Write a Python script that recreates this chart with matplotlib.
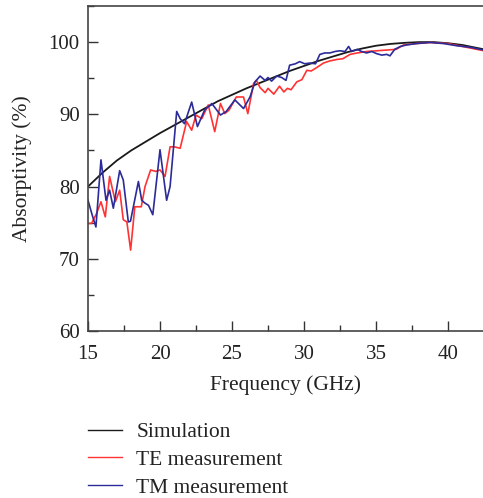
import matplotlib
matplotlib.use("Agg")
import matplotlib.pyplot as plt
from matplotlib.ticker import MultipleLocator
from matplotlib.lines import Line2D

plt.rcParams['font.family'] = ['Liberation Serif', 'DejaVu Serif']

sim_freq = [15, 16, 17, 18, 19, 20, 21, 22, 23, 24, 25, 26, 27, 28, 29, 30, 31, 32,
            33, 34, 35, 36, 37, 38, 39, 40, 41, 42, 42.5]
sim_abs = [80.0, 81.9, 83.6, 85.0, 86.2, 87.4, 88.5, 89.6, 90.7, 91.8, 92.7, 93.6, 94.4,
           95.2, 96.0, 96.7, 97.4, 98.0, 98.6, 99.1, 99.5, 99.75, 99.9, 100.0, 100.0,
           99.85, 99.6, 99.2, 99.0]

te_freq = [15.0, 15.25, 15.6, 15.9, 16.2, 16.5, 16.9, 17.2, 17.45, 17.7, 17.96, 18.25,
           18.5, 18.7, 18.96, 19.35, 19.7, 20.0, 20.35, 20.7, 21.0, 21.4, 21.85, 22.2,
           22.5, 22.9, 23.35, 23.8, 24.2, 24.5, 24.8, 25.3, 25.8, 26.1, 26.5, 26.7, 26.95,
           27.3, 27.5, 27.9, 28.3, 28.6, 28.85, 29.1, 29.5, 29.85, 30.2, 30.5, 30.9, 31.35,
           31.8, 32.3, 32.7, 33.2, 33.7, 34.35, 35.05, 35.75, 36.4, 36.9, 37.8, 38.8, 40.0,
           41.0, 42.0, 42.5]
te_abs = [74.9, 74.9, 76.3, 77.9, 75.8, 81.4, 77.9, 79.5, 75.4, 75.1, 71.2, 77.2,
          77.2, 77.2, 80.0, 82.3, 82.1, 82.3, 81.4, 85.5, 85.5, 85.3, 89.0, 87.8,
          89.9, 89.4, 91.3, 87.6, 91.5, 90.1, 90.6, 92.4, 92.4, 90.1, 94.3, 94.7, 93.7,
          93.0, 93.6, 92.8, 93.9, 93.1, 93.6, 93.4, 94.5, 94.8, 96.1, 96.0, 96.5, 97.1,
          97.4, 97.6, 97.7, 98.3, 98.5, 98.7, 98.8, 98.9, 99.0, 99.6, 99.8, 99.95, 99.8,
          99.4, 99.0, 98.8]

tm_freq = [15.0, 15.3, 15.55, 15.9, 16.25, 16.5, 16.76, 17.2, 17.45, 17.8, 17.95, 18.5,
           18.73, 18.96, 19.2, 19.5, 20.0, 20.46, 20.7, 21.16, 21.4, 21.7, 22.2, 22.6,
           23.1, 23.6, 24.2, 24.6, 25.2, 25.8, 26.25, 26.6, 26.95, 27.3, 27.5, 27.75,
           28.1, 28.45, 28.75, 29.0, 29.4, 29.7, 30.05, 30.4, 30.8, 31.1, 31.45, 31.8,
           32.15, 32.5, 32.85, 33.1, 33.3, 33.7, 34.0, 34.35, 34.7, 35.05, 35.4, 35.75,
           35.97, 36.3, 36.7, 37.1, 37.8, 38.75, 39.7, 40.6, 41.5, 42.5]
tm_abs = [78.1, 76.0, 74.4, 83.7, 78.1, 79.5, 77.0, 82.2, 80.9, 75.1, 75.2, 80.7,
          78.1, 77.7, 77.4, 76.1, 85.1, 78.1, 80.0, 90.4, 89.4, 88.7, 91.7, 88.3,
          90.6, 91.5, 89.9, 90.4, 92.0, 90.8, 92.4, 94.5, 95.3, 94.7, 95.1, 94.6,
          95.3, 95.1, 94.7, 96.8, 97.0, 97.3, 97.0, 97.1, 97.0, 98.3, 98.5, 98.5,
          98.7, 98.8, 98.7, 99.4, 98.7, 99.0, 98.7, 98.5, 98.7, 98.4, 98.2, 98.3,
          98.1, 99.0, 99.4, 99.6, 99.8, 99.95, 99.8, 99.5, 99.3, 98.9]

labels = ["Simulation", "TE measurement", "TM measurement"]
colors = ["#1a1a1a", "#ff3333", "#2b2b99"]

fig = plt.figure(figsize=(4.83, 4.98), dpi=100)
ax = fig.add_axes([88/483, 167/498, 396/483, 325/498])

ax.plot(sim_freq, sim_abs, color=colors[0], lw=1.3)
ax.plot(te_freq, te_abs, color=colors[1], lw=1.2)
ax.plot(tm_freq, tm_abs, color=colors[2], lw=1.2)

ax.set_xlim(15, 42.5)
ax.set_ylim(60, 105)
ax.xaxis.set_major_locator(MultipleLocator(5))
ax.xaxis.set_minor_locator(MultipleLocator(2.5))
ax.yaxis.set_major_locator(MultipleLocator(10))
ax.yaxis.set_minor_locator(MultipleLocator(5))
ax.tick_params(which='both', direction='in', top=False, right=False, labelsize=15,
               width=1.0, colors='#333333', labelcolor='#222222')
ax.tick_params(which='major', length=7)
ax.tick_params(which='minor', length=4)
ax.tick_params(axis='x', pad=10)
ax.tick_params(axis='y', pad=6)
for s in ax.spines.values():
    s.set_linewidth(1.2)
    s.set_color('#444444')
ax.spines['right'].set_visible(False)

ax.set_xlabel("Frequency (GHz)", fontsize=15.5, color='#222222', labelpad=8)
ax.set_ylabel("Absorptivity (%)", fontsize=15.5, color='#222222', labelpad=12)

handles = [Line2D([0], [0], color=c, lw=1.0) for c in colors]
fig.legend(handles, labels, loc='upper left', bbox_to_anchor=(88/483, 1 - 422/498),
           frameon=False, fontsize=15.5, handlelength=1.6, handletextpad=0.65,
           labelspacing=0.36, borderpad=0, borderaxespad=0, labelcolor='#222222')

fig.savefig("out.png", dpi=100)
